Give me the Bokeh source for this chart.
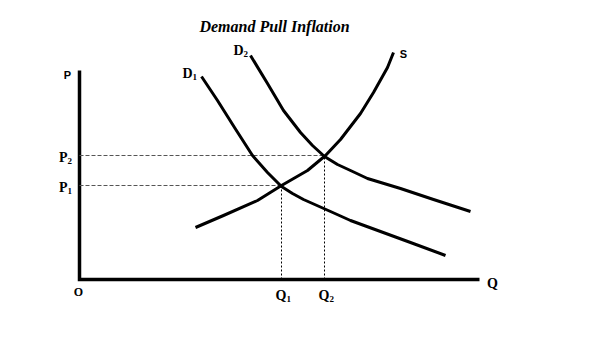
from bokeh.plotting import figure
from bokeh.models import Range1d
from bokeh.core.properties import value
from bokeh.embed import file_html
from bokeh.resources import INLINE

# ---- data (quantity, price) ----
s_q = [116, 144, 178, 202, 228, 246, 261, 281, 294, 308, 314]
s_p = [52, 64, 79, 94, 109, 124, 140, 166, 187, 212, 227]

d1_q = [122, 138, 155, 173, 188, 202, 213, 224, 251, 271, 301, 331, 366]
d1_p = [203, 179, 152, 124, 107, 93, 86, 80, 68, 59, 48, 37, 24]

d2_q = [171, 188, 204, 221, 233, 245, 258, 271, 288, 321, 354, 391]
d2_p = [224, 196, 169, 147, 134, 123, 115, 109, 101, 91, 80, 68]

eq_q = [202, 245]   # Q1, Q2
eq_p = [94, 124]    # P1, P2
eq_q_letters = ["Q", "Q"]
eq_p_letters = ["P", "P"]
eq_subs = ["1", "2"]
curve_letters = ["D", "D"]

axis_q_max = 400
axis_p_max = 209

title_text = "Demand Pull Inflation"

# ---- figure ----
p = figure(width=614, height=360, x_range=Range1d(-79, 535), y_range=Range1d(-81, 279),
           x_axis_type=None, y_axis_type=None, toolbar_location=None,
           output_backend="svg", min_border=0)
p.outline_line_color = None
p.xgrid.visible = False
p.ygrid.visible = False
p.background_fill_color = "white"
p.border_fill_color = "white"

# axes
p.line([0, 0, axis_q_max], [axis_p_max, 0, 0], line_color="black", line_width=3.5,
       line_join="miter")

# guide lines
for q, pr in zip(eq_q, eq_p):
    p.line([0, q], [pr, pr], line_color="#555555", line_width=1, line_dash="4 2")
    p.line([q, q], [0, pr], line_color="black", line_width=1, line_dash="2 2")

# curves
for xs, ys in ((s_q, s_p), (d1_q, d1_p), (d2_q, d2_p)):
    p.line(xs, ys, line_color="black", line_width=3, line_join="round", line_cap="butt")

serif = value("Liberation Serif")
sans = value("Liberation Sans")


def sub_label(xs, ys, letters, subs):
    p.text(x=xs, y=ys, text=letters, text_font=serif, text_font_style="bold",
           text_font_size="14px", text_align="right", text_baseline="middle",
           text_color="black")
    p.text(x=xs, y=ys, text=subs, text_font=serif, text_font_style="bold",
           text_font_size="9px", text_align="left", text_baseline="middle",
           text_color="black", y_offset=3)


# title
p.text(x=[195], y=[253], text=[title_text], text_font=serif, text_font_style="bold italic",
       text_font_size="16px", text_align="center", text_baseline="middle", text_color="black")

# equilibrium labels
sub_label([q + 5 for q in eq_q], [-16, -16], eq_q_letters, eq_subs)
sub_label([-12, -12], [eq_p[0] - 2, eq_p[1] - 2], eq_p_letters, eq_subs)

# curve labels
sub_label([d1_q[0] - 9, d2_q[0] - 7], [d1_p[0] + 3, d2_p[0] + 5], curve_letters, eq_subs)
p.text(x=[s_q[-1] + 10], y=[s_p[-1] - 1], text=["S"], text_font=sans, text_font_style="bold",
       text_font_size="11px", text_align="center", text_baseline="middle", text_color="black")

# axis labels
p.text(x=[-12], y=[axis_p_max - 4], text=["P"], text_font=sans, text_font_style="bold",
       text_font_size="11px", text_align="center", text_baseline="middle", text_color="black")
p.text(x=[axis_q_max + 13], y=[-4], text=["Q"], text_font=serif, text_font_style="bold",
       text_font_size="14px", text_align="center", text_baseline="middle", text_color="black")
p.text(x=[-1], y=[-12], text=["O"], text_font=serif, text_font_style="bold",
       text_font_size="12px", text_align="center", text_baseline="middle", text_color="black")

open("out.html", "w").write(file_html(p, INLINE))
